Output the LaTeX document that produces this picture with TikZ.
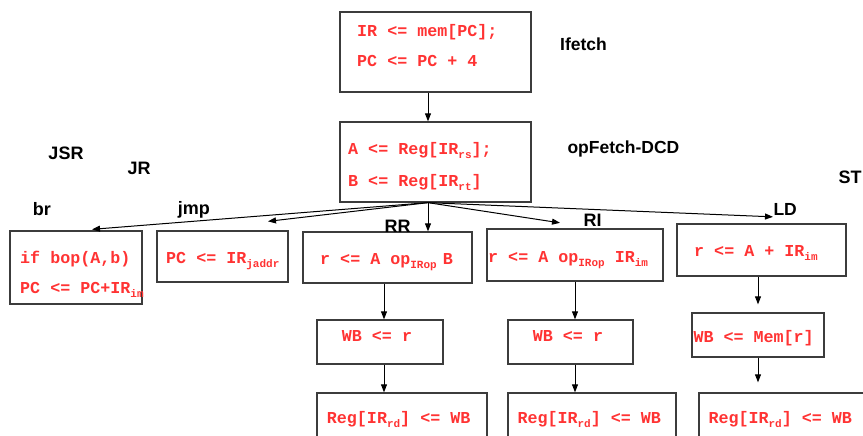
\documentclass[tikz,border=0pt]{standalone}
\usepackage{fontspec}
\setmainfont{Liberation Sans}
\setmonofont{Liberation Mono}
\usetikzlibrary{arrows.meta}
\definecolor{codered}{RGB}{255,51,51}
\definecolor{boxgray}{RGB}{60,60,60}
% lowered small subscript for register fields
\newcommand\fld[1]{\raisebox{-4pt}{\fontsize{11}{11}\selectfont #1}}
\tikzset{
  stagebox/.style={draw=boxgray, line width=1.3pt, inner sep=0pt},
  code/.style={anchor=base west, inner sep=0pt, text=codered,
    font=\ttfamily\bfseries\fontsize{16.7}{20}\selectfont},
  lbl/.style={anchor=base west, inner sep=0pt,
    font=\bfseries\fontsize{18}{20}\selectfont},
  arr/.style={-{Triangle[length=8pt,width=6pt]}, line width=1pt, black}
}
\begin{document}
\begin{tikzpicture}[x=1pt,y=-1pt]
\useasboundingbox (0,0) rectangle (863,436);
\clip (0,0) rectangle (863,436);

% stage boxes
\node[stagebox, minimum width=191pt, minimum height=80pt] (ifetch) at (435.5,52) {};
\node[stagebox, minimum width=191pt, minimum height=80pt] (opf) at (435.5,162) {};
\node[stagebox, minimum width=132pt, minimum height=73pt] (br) at (76,267.5) {};
\node[stagebox, minimum width=131pt, minimum height=51pt] (jmp) at (222.5,256.5) {};
\node[stagebox, minimum width=169pt, minimum height=51pt] (rr) at (387.5,257.5) {};
\node[stagebox, minimum width=176pt, minimum height=52pt] (ri) at (575,255) {};
\node[stagebox, minimum width=169pt, minimum height=52pt] (ld) at (761.5,250) {};
\node[stagebox, minimum width=126pt, minimum height=44pt] (wbrr) at (380,342) {};
\node[stagebox, minimum width=125pt, minimum height=44pt] (wbri) at (570.5,342) {};
\node[stagebox, minimum width=132pt, minimum height=44pt] (wbld) at (758,335) {};
\node[stagebox, minimum width=170pt, minimum height=57pt] (regrr) at (402,421.5) {};
\node[stagebox, minimum width=168pt, minimum height=57pt] (regri) at (592,421.5) {};
\node[stagebox, minimum width=176pt, minimum height=57pt] (regld) at (787,421.5) {};

% register transfer statements
\node[code] (t1) at (357,36.5) {IR <= mem[PC];};
\node[code] (t2) at (357,67) {PC <= PC + 4};
\node[code] (t3) at (348,154.5) {A <= Reg[IR\fld{rs}];};
\node[code] (t4) at (348,186) {B <= Reg[IR\fld{rt}]};
\node[code] (t5) at (20,263) {if bop(A,b)};
\node[code] (t6) at (20,293.3) {PC <= PC+IR\fld{im}};
\node[code] (t7) at (166,263) {PC <= IR\fld{jaddr}};
\node[code] (t8) at (320,264) {r <= A op\fld{IRop}\hspace{6pt}B};
\node[code] (t9) at (488,262.3) {r <= A op\fld{IRop} IR\fld{im}};
\node[code] (t10) at (694,256.7) {r <= A + IR\fld{im}};
\node[code] (t11) at (341.7,341.7) {WB <= r};
\node[code] (t12) at (532.7,341.7) {WB <= r};
\node[code] (t13) at (693.3,342) {WB <= Mem[r]};
\node[code] (t14) at (326.7,423) {Reg[IR\fld{rd}] <= WB};
\node[code] (t15) at (517.3,423) {Reg[IR\fld{rd}] <= WB};
\node[code] (t16) at (708.3,423) {Reg[IR\fld{rd}] <= WB};

% stage and instruction-class labels
\node[lbl, font=\bfseries\fontsize{17.5}{20}\selectfont] (lifetch) at (560,50.7) {Ifetch};
\node[lbl, font=\bfseries\fontsize{17.5}{20}\selectfont] (lopf) at (567.3,153.3) {opFetch-DCD};
\node[lbl] (ljsr) at (48.3,160) {JSR};
\node[lbl] (ljr) at (127.3,174) {JR};
\node[lbl] (lbr) at (32.7,215) {br};
\node[lbl] (ljmp) at (177.7,214) {jmp};
\node[lbl] (lrr) at (384.5,232) {RR};
\node[lbl] (lri) at (583.5,226.5) {RI};
\node[lbl, font=\bfseries\fontsize{17.5}{20}\selectfont] (lld) at (773.3,215) {LD};
\node[lbl] (lst) at (838.5,183.3) {ST};

% fetch -> decode
\draw[arr] ([xshift=-7.5pt]ifetch.south) -- ([xshift=-7.5pt]opf.north);

% dispatch from decode to each instruction class
\coordinate (fan) at ([xshift=-7.5pt]opf.south);
\draw[arr] (fan) -- ([xshift=16pt,yshift=1pt]br.north);
\draw[arr] (fan) -- ([xshift=45.5pt,yshift=9pt]jmp.north);
\draw[arr] (fan) -- (fan |- rr.north);
\draw[arr] (fan) -- ([xshift=-15pt,yshift=5.5pt]ri.north);
\draw[arr] (fan) -- ([xshift=11.5pt,yshift=6.5pt]ld.north);

% execute -> memory -> write back
\draw[arr] ([xshift=4pt]wbrr.north |- rr.south) -- ([xshift=4pt]wbrr.north);
\draw[arr] ([xshift=4pt]wbrr.south) -- ([xshift=4pt]wbrr.south |- regrr.north);
\draw[arr] ([xshift=4.5pt]wbri.north |- ri.south) -- ([xshift=4.5pt]wbri.north);
\draw[arr] ([xshift=4.5pt]wbri.south) -- ([xshift=4.5pt]wbri.south |- regri.north);
\coordinate (wbldtop) at ([yshift=8pt]wbld.north);
\coordinate (regldtop) at ([yshift=10pt]regld.north);
\draw[arr] (wbld.north |- ld.south) -- (wbldtop);
\draw[arr] (wbld.south) -- (wbld.south |- regldtop);
\end{tikzpicture}
\end{document}
